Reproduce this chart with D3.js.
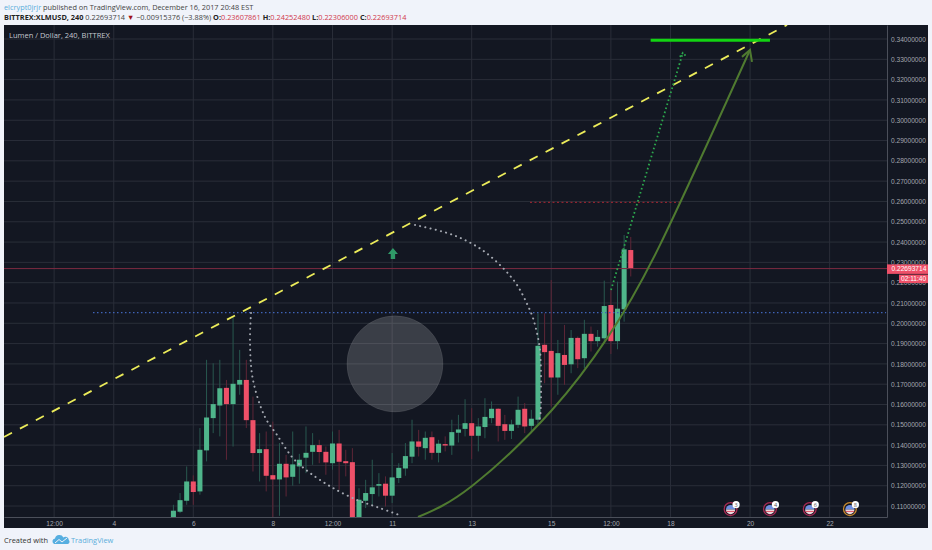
<!DOCTYPE html>
<html>
<head>
<meta charset="utf-8">
<script src="https://cdnjs.cloudflare.com/ajax/libs/d3/7.8.5/d3.min.js"></script>
<style>
  html, body { margin: 0; padding: 0; background: #f0f3fa; }
  svg { display: block; }
  text { font-family: "Open Sans", sans-serif; }
  .axis text { fill: #a3a7b0; font-size: 6.6px; font-family: "Liberation Sans", sans-serif; }
  .axis path { stroke: #4b4f5a; }
</style>
</head>
<body>
<div id="chart-area"></div>
<script>
// Data --------------------------------------------------------------
const firstCandleDay = 5.5
const candlesPerDay = 6
const opens = [.1046,.1072,.1126,.1221,.1172,.1374,.1533,.1595,.1682,.1602,.1698,.1721,.1523,.1361,.1380,.1252,.1231,.1308,.1244,.1295,.1338,.1367,.1400,.1367,.1311,.1408,.1321,.1316,.1000,.1126,.1159,.1200,.1210,.1151,.1238,.1285,.1343,.1418,.1385,.1439,.1362,.1405,.1398,.1461,.1480,.1508,.1446,.1489,.1533,.1579,.1503,.1470,.1500,.1579,.1495,.1525,.1894,.1864,.1733,.1844,.1798,.1928,.1828,.1948,.1912,.1926,.2090,.1912,.2069,.23607861]
const highs = [.1106,.1164,.1295,.1251,.1484,.1820,.1803,.1820,.1721,.2033,.1869,.1820,.1639,.1459,.1467,.1516,.1410,.1352,.1467,.1357,.1492,.1459,.1426,.1393,.1467,.1475,.1377,.1385,.1188,.1229,.1328,.1262,.1246,.1361,.1311,.1410,.1525,.1475,.1467,.1467,.1426,.1443,.1525,.1549,.1626,.1582,.1533,.1631,.1615,.1582,.1549,.1525,.1639,.1607,.1574,.2049,.2049,.2213,.1918,.1992,.1967,.1935,.2017,.1984,.1967,.2210,.2164,.2205,.2435,.24252480]
const lows = [.1033,.1065,.1106,.1106,.1156,.1320,.1459,.1443,.1328,.1393,.1648,.1484,.1270,.1221,.1172,.1041,.1052,.1147,.1200,.1210,.1262,.1303,.1311,.1254,.1279,.1180,.1246,.0990,.0990,.1090,.1106,.1147,.1098,.1115,.1213,.1249,.1311,.1344,.1328,.1328,.1315,.1369,.1352,.1413,.1443,.1331,.1369,.1434,.1508,.1418,.1426,.1430,.1484,.1459,.1459,.1500,.1705,.1590,.1648,.1697,.1754,.1779,.1779,.1861,.1885,.1910,.1849,.1872,.2008,.22306000]
const closes = [.1077,.1129,.1221,.1169,.1377,.1536,.1602,.1680,.1602,.1702,.1721,.1523,.1361,.1380,.1249,.1231,.1308,.1241,.1305,.1328,.1362,.1400,.1366,.1315,.1408,.1318,.1311,.1000,.1131,.1164,.1192,.1208,.1151,.1241,.1288,.1346,.1418,.1392,.1436,.1362,.1407,.1398,.1464,.1477,.1508,.1446,.1492,.1539,.1579,.1495,.1470,.1502,.1574,.1492,.1530,.1889,.1858,.1733,.1853,.1795,.1928,.1823,.1948,.1912,.1933,.2085,.1912,.2072,.2364,.22693714]

const priceTicks = [.11,.12,.13,.14,.15,.16,.17,.18,.19,.20,.21,.22,.23,.24,.25,.26,.27,.28,.29,.30,.31,.32,.33,.34]
const timeTicks = [2.5,4,6,8,9.5,11,13,15,16.5,18,20,22]
const timeLabels = ["12:00","4","6","8","12:00","11","13","15","12:00","18","20","22"]

const lastPrice = 0.22693714
const lastPriceText = "0.22693714"
const countdownText = "02:11:40"

// Drawings as [day, price]
const trendLine = [[1.24,.1440],[20.93,.3469]]
const blueLevel = [[3.478,.2053],[23.42,.2053]]
const redLevel = [[14.466,.2595],[18.238,.2595]]
const targetLevel = [[17.5,.3394],[20.5,.3394]]
const curveArrow = [[11.65,.1046],[13.008,.1199],[15.019,.1573],[16.427,.1933],[17.735,.2386],[19.998,.3346]]
const curveHead = [[19.797,.3312],[19.998,.3346],[20.048,.3287]]
const dottedArrow = [[16.503,.2164],[18.31,.3332]]
const dottedHead = [[18.235,.3312],[18.31,.3332],[18.385,.3317]]
const arcLower = [[7.451,.2051],[7.426,.1903],[7.501,.1721],[7.803,.1538],[8.105,.1450],[8.507,.1336],[8.934,.1263],[9.513,.1189],[10.116,.1130],[10.619,.1095],[11.248,.1051]]
const arcUpper = [[11.575,.2484],[12.379,.2445],[12.882,.2405],[13.335,.2351],[13.787,.2272],[14.139,.2189],[14.441,.2075],[14.541,.2026],[14.642,.1952],[14.717,.1868],[14.743,.1696],[14.717,.1538],[14.667,.1514]]
const discCenter = [11.07,.1800]
const discRadiusDays = 1.207
const discRadiusPrice = .02365
const upArrowAt = [11.02,.2371]
const flagDays = [19.51,20.5,21.5,22.51]
const flagCounts = ["3","4","6","8"]
const flagPrice = .1085

// Canvas setup -----------------------------------------
const WIDTH = 932, HEIGHT = 550
const PANEL = {LEFT:4, RIGHT:928, TOP:25, BOTTOM:528}
const PLOT = {RIGHT:887, BOTTOM:517}
const COLORS = {up:"#4fb58b", down:"#ee5068", upWick:"#28584f", downWick:"#5e2637", grid:"#2a2e39", bg:"#131722"}

const svg = d3.select("#chart-area").append("svg")
  .attr("width", WIDTH)
  .attr("height", HEIGHT)

const xScale = d3.scaleLinear().domain([1.24,23.443]).range([PANEL.LEFT, PLOT.RIGHT])
const yScale = d3.scaleLinear().domain([.1046,.3469]).range([PLOT.BOTTOM, PANEL.TOP])
const line = d3.line().x(d => xScale(d[0])).y(d => yScale(d[1]))

svg.append("rect")
  .attr("x", PANEL.LEFT).attr("y", PANEL.TOP)
  .attr("width", PANEL.RIGHT - PANEL.LEFT).attr("height", PANEL.BOTTOM - PANEL.TOP)
  .attr("fill", COLORS.bg)

svg.append("clipPath").attr("id", "plot-clip").append("rect")
  .attr("x", PANEL.LEFT).attr("y", PANEL.TOP)
  .attr("width", PLOT.RIGHT - PANEL.LEFT).attr("height", PLOT.BOTTOM - PANEL.TOP)

// Header text -----------------------------------------
const head1 = svg.append("text").attr("x", 4).attr("y", 9.5).attr("font-size", 7.35).attr("fill", "#444")
head1.append("tspan").attr("fill", "#5aaedb").text("elcrypt0jrjr")
head1.append("tspan").text(" published on TradingView.com, December 16, 2017 20:48 EST")

const head2 = svg.append("text").attr("x", 4).attr("y", 19.5).attr("font-size", 7.35).attr("fill", "#444")
head2.append("tspan").attr("font-weight", 700).attr("fill", "#222").text("BITTREX:XLMUSD, 240")
head2.append("tspan").text(" 0.22693714 ")
head2.append("tspan").attr("fill", "#a01018").text("\u25BC")
head2.append("tspan").text(" \u22120.00915376 (\u22123.88%) ")
const ohlc = [["O:","0.23607861"],["H:","0.24252480"],["L:","0.22306000"],["C:","0.22693714"]]
ohlc.forEach(d => {
  head2.append("tspan").attr("font-weight", 700).attr("fill", "#222").text(d[0])
  head2.append("tspan").attr("fill", "#d0384c").text(d[1] + " ")
})

// Grid -----------------------------------------
const plot = svg.append("g").attr("clip-path", "url(#plot-clip)")

plot.selectAll(".hgrid").data(priceTicks).enter().append("line")
  .attr("class", "hgrid")
  .attr("x1", PANEL.LEFT).attr("x2", PLOT.RIGHT)
  .attr("y1", d => yScale(d)).attr("y2", d => yScale(d))
  .attr("stroke", COLORS.grid)

plot.selectAll(".vgrid").data(timeTicks).enter().append("line")
  .attr("class", "vgrid")
  .attr("x1", d => xScale(d)).attr("x2", d => xScale(d))
  .attr("y1", PANEL.TOP).attr("y2", PLOT.BOTTOM)
  .attr("stroke", COLORS.grid)

// Disc under the candles
plot.append("ellipse")
  .attr("cx", xScale(discCenter[0])).attr("cy", yScale(discCenter[1]))
  .attr("rx", xScale(discCenter[0] + discRadiusDays) - xScale(discCenter[0]))
  .attr("ry", yScale(discCenter[1] - discRadiusPrice) - yScale(discCenter[1]))
  .attr("fill", "rgba(255,255,255,0.17)")
  .attr("stroke", "rgba(255,255,255,0.08)")

// Candles -----------------------------------------
const candleDays = closes.map((c, i) => firstCandleDay + i / candlesPerDay)
const bandwidth = xScale(1 / candlesPerDay) - xScale(0)
const bodyWidth = bandwidth * 0.76
const isUp = i => closes[i] >= opens[i]

plot.selectAll(".wick").data(closes).enter().append("line")
  .attr("class", "wick")
  .attr("x1", (d, i) => xScale(candleDays[i])).attr("x2", (d, i) => xScale(candleDays[i]))
  .attr("y1", (d, i) => yScale(highs[i])).attr("y2", (d, i) => yScale(lows[i]))
  .attr("stroke", (d, i) => isUp(i) ? COLORS.upWick : COLORS.downWick)

plot.selectAll(".body").data(closes).enter().append("rect")
  .attr("class", "body")
  .attr("x", (d, i) => xScale(candleDays[i]) - bodyWidth / 2)
  .attr("width", bodyWidth)
  .attr("y", (d, i) => yScale(Math.max(opens[i], closes[i])))
  .attr("height", (d, i) => Math.max(1, Math.abs(yScale(opens[i]) - yScale(closes[i]))))
  .attr("fill", (d, i) => isUp(i) ? COLORS.up : COLORS.down)

// Levels and drawings -----------------------------------------
plot.append("path").attr("d", line([[1.24, lastPrice],[23.443, lastPrice]]))
  .attr("fill", "none").attr("stroke", "#7c2b42").attr("stroke-width", 1)

plot.append("path").attr("d", line(blueLevel))
  .attr("fill", "none").attr("stroke", "#3f63b8").attr("stroke-width", 1.2).attr("stroke-dasharray", "1.5 2.5")

plot.append("path").attr("d", line(redLevel))
  .attr("fill", "none").attr("stroke", "#8f2430").attr("stroke-width", 1.2).attr("stroke-dasharray", "2 2.5")

plot.append("path").attr("d", line(trendLine))
  .attr("fill", "none").attr("stroke", "#ecec5a").attr("stroke-width", 1.8).attr("stroke-dasharray", "9 9")

const dotted = d3.line().curve(d3.curveCatmullRom).x(d => xScale(d[0])).y(d => yScale(d[1]))
;[arcLower, arcUpper].forEach(arc => {
  plot.append("path").attr("d", dotted(arc))
    .attr("fill", "none").attr("stroke", "#a4a8b1").attr("stroke-width", 2)
    .attr("stroke-linecap", "round").attr("stroke-dasharray", "0.1 5.2")
})

const smooth = d3.line().curve(d3.curveNatural).x(d => xScale(d[0])).y(d => yScale(d[1]))
plot.append("path").attr("d", smooth(curveArrow))
  .attr("fill", "none").attr("stroke", "#4f7a30").attr("stroke-width", 2)
plot.append("path").attr("d", line(curveHead))
  .attr("fill", "none").attr("stroke", "#4f7a30").attr("stroke-width", 2)

plot.append("path").attr("d", line(dottedArrow))
  .attr("fill", "none").attr("stroke", "#2ca84e").attr("stroke-width", 1.8)
  .attr("stroke-dasharray", "1.6 2.6")
plot.append("path").attr("d", line(dottedHead))
  .attr("fill", "none").attr("stroke", "#2ca84e").attr("stroke-width", 1.8)
  .attr("stroke-dasharray", "1.6 2")

plot.append("path").attr("d", line(targetLevel))
  .attr("fill", "none").attr("stroke", "#12d312").attr("stroke-width", 3)

// Small up arrow
plot.append("path")
  .attr("transform", `translate(${xScale(upArrowAt[0])},${yScale(upArrowAt[1])})`)
  .attr("d", "M0,0 L5,6 L2.2,6 L2.2,11 L-2.2,11 L-2.2,6 L-5,6 Z")
  .attr("fill", "#2f9a68")

// Event flags
const flags = svg.selectAll(".flag").data(flagDays).enter().append("g")
  .attr("class", "flag")
  .attr("transform", d => `translate(${xScale(d)},${yScale(flagPrice)})`)
flags.append("circle").attr("r", 6.4).attr("fill", "#131722")
  .attr("stroke", (d, i) => i == 3 ? "#c98a2e" : "#a82a55").attr("stroke-width", 1.3)
flags.append("path").attr("d", "M-4.6,0.5 A4.6,4.6 0 0 1 4.6,0.5 Z").attr("fill", "#6f8fe0")
flags.append("path").attr("d", "M-4.6,0.5 A4.6,4.6 0 0 0 4.6,0.5 Z").attr("fill", "#ecd9de")
flags.append("path").attr("d", "M-4.2,2.4 H4.2").attr("stroke", "#e05a6a").attr("stroke-width", 1)
flags.append("circle").attr("cx", 5.5).attr("cy", -4.4).attr("r", 3.6).attr("fill", "#fff")
flags.append("text").attr("x", 5.5).attr("y", -2.4).attr("text-anchor", "middle")
  .attr("font-size", 5.5).attr("fill", "#555").text((d, i) => flagCounts[i])

// Axes -----------------------------------------
const yAxis = d3.axisRight(yScale).tickValues(priceTicks).tickFormat(d3.format(".8f")).tickSize(0).tickPadding(4)
const xAxis = d3.axisBottom(xScale).tickValues(timeTicks).tickFormat((d, i) => timeLabels[i]).tickSize(0).tickPadding(4)

svg.append("g").attr("class", "axis").attr("transform", `translate(${PLOT.RIGHT},0)`).call(yAxis)
svg.append("g").attr("class", "axis").attr("transform", `translate(0,${PLOT.BOTTOM})`).call(xAxis)

// Last price tags
const tagY = yScale(lastPrice)
svg.append("rect").attr("x", PLOT.RIGHT).attr("y", tagY - 4.2).attr("width", PANEL.RIGHT - PLOT.RIGHT).attr("height", 9.5)
  .attr("fill", COLORS.down)
svg.append("text").attr("x", PLOT.RIGHT + 4.5).attr("y", tagY + 2.9).attr("font-size", 6.6).attr("fill", "#fff")
  .style("font-family", "Liberation Sans").text(lastPriceText)
svg.append("rect").attr("x", 899).attr("y", tagY + 6).attr("width", PANEL.RIGHT - 899).attr("height", 8.5)
  .attr("fill", COLORS.down)
svg.append("text").attr("x", 901).attr("y", tagY + 12.6).attr("font-size", 6.6).attr("fill", "#fff")
  .style("font-family", "Liberation Sans").text(countdownText)

// Labels -----------------------------------------
svg.append("text").attr("x", 9).attr("y", 37.5).attr("font-size", 7.5).attr("fill", "#c5c8d0").text("Lumen / Dollar, 240, BITTREX")

svg.append("text").attr("x", 4).attr("y", 543).attr("font-size", 7.4).attr("fill", "#333").text("Created with")
svg.append("path")
  .attr("d", "M54,544 a3,3 0 0 1 1,-5.6 a4.5,4.5 0 0 1 8.4,-1 a3.4,3.4 0 0 1 5.4,2.6 a2.4,2.4 0 0 1 -0.8,4 Z")
  .attr("fill", "#56aee0")
svg.append("path").attr("d", "M55,543 L59,539.5 L62,542 L67,538").attr("fill", "none").attr("stroke", "#f0f3fa").attr("stroke-width", 1)
svg.append("text").attr("x", 71).attr("y", 543).attr("font-size", 7.4).attr("fill", "#5aaedb").text("TradingView")
</script>
</body>
</html>
